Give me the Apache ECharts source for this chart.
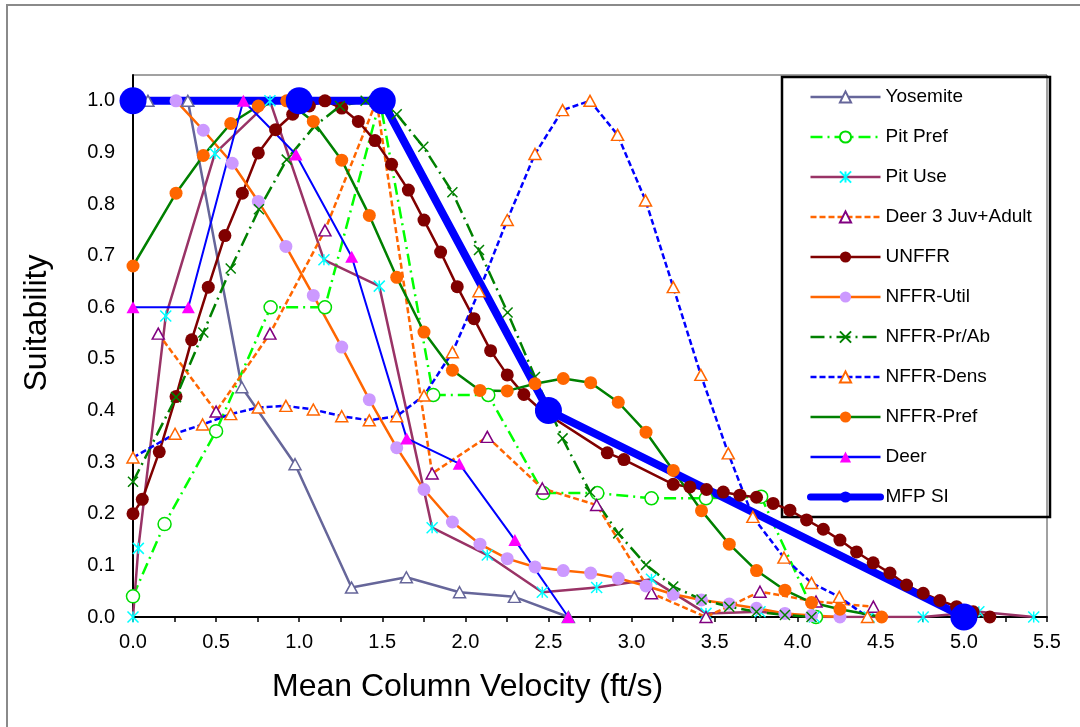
<!DOCTYPE html>
<html>
<head>
<meta charset="utf-8">
<script src="https://cdn.jsdelivr.net/npm/echarts@6/dist/echarts.min.js"></script>
<style>
html,body{margin:0;padding:0;background:#fff;}
#chart{width:1080px;height:727px;}
</style>
</head>
<body>
<div id="chart"></div>
<script>
// ---- data (x = mean column velocity ft/s, y = suitability) ----
const yosemiteX = [0.09, 0.33, 0.655, 0.975, 1.315, 1.645, 1.965, 2.295, 2.62];
const yosemiteY = [1.0, 1.0, 0.445, 0.296, 0.057, 0.077, 0.048, 0.039, 0.0];

const pitPrefX = [0, 0.19, 0.5, 0.828, 1.155, 1.486, 1.807, 2.138, 2.469, 2.794, 3.12, 3.448, 3.78, 4.11];
const pitPrefY = [0.04, 0.18, 0.36, 0.6, 0.6, 1.0, 0.43, 0.43, 0.24, 0.24, 0.23, 0.23, 0.233, 0.0];

const pitUseX = [0, 0.032, 0.197, 0.493, 0.824, 1.149, 1.482, 1.80, 2.132, 2.463, 2.79, 3.12, 3.448, 3.773, 4.10, 4.43, 4.755, 5.09, 5.42];
const pitUseY = [0, 0.133, 0.583, 0.898, 1.0, 0.692, 0.641, 0.173, 0.12, 0.048, 0.057, 0.073, 0.007, 0.01, 0.0, 0.0, 0.0, 0.01, 0.0];

const deer3X = [0.152, 0.5, 0.824, 1.155, 1.466, 1.80, 2.132, 2.463, 2.79, 3.12, 3.448, 3.773, 4.11, 4.455];
const deer3Y = [0.549, 0.398, 0.549, 0.749, 1.0, 0.278, 0.349, 0.249, 0.217, 0.046, 0.0, 0.049, 0.03, 0.02];

const unffrX = [0, 0.056, 0.158, 0.259, 0.353, 0.453, 0.553, 0.658, 0.754, 0.858, 0.961, 1.061, 1.155, 1.256, 1.356, 1.456, 1.556, 1.657, 1.751, 1.851, 1.951, 2.052, 2.152, 2.252, 2.352, 2.459, 2.854, 2.954, 3.251, 3.351, 3.451, 3.552, 3.652, 3.752, 3.852, 3.953, 4.053, 4.154, 4.254, 4.354, 4.454, 4.555, 4.655, 4.755, 4.855, 4.956, 5.056, 5.156];
const unffrY = [0.2, 0.228, 0.32, 0.427, 0.537, 0.639, 0.739, 0.821, 0.899, 0.944, 0.974, 0.99, 1.0, 0.986, 0.96, 0.923, 0.877, 0.827, 0.769, 0.707, 0.64, 0.578, 0.516, 0.469, 0.431, 0.40, 0.318, 0.305, 0.257, 0.252, 0.247, 0.242, 0.236, 0.232, 0.22, 0.207, 0.188, 0.17, 0.149, 0.126, 0.105, 0.085, 0.062, 0.046, 0.032, 0.02, 0.01, 0.0];

const utilX = [0.259, 0.423, 0.597, 0.754, 0.92, 1.085, 1.256, 1.422, 1.587, 1.751, 1.922, 2.088, 2.252, 2.419, 2.589, 2.754, 2.92, 3.087, 3.251, 3.421, 3.588, 3.752, 3.923, 4.083, 4.254];
const utilY = [1.0, 0.943, 0.879, 0.805, 0.718, 0.623, 0.523, 0.421, 0.328, 0.247, 0.184, 0.141, 0.113, 0.097, 0.09, 0.085, 0.075, 0.06, 0.044, 0.033, 0.025, 0.017, 0.007, 0.003, 0.0];

const prAbX = [0, 0.259, 0.423, 0.588, 0.758, 0.925, 1.09, 1.245, 1.40, 1.587, 1.747, 1.922, 2.082, 2.254, 2.419, 2.585, 2.75, 2.92, 3.087, 3.251, 3.421, 3.588, 3.752, 3.923, 4.083];
const prAbY = [0.262, 0.426, 0.551, 0.675, 0.79, 0.886, 0.95, 0.99, 1.0, 0.974, 0.911, 0.823, 0.711, 0.59, 0.465, 0.346, 0.242, 0.162, 0.101, 0.059, 0.034, 0.02, 0.01, 0.004, 0.0];

const densX = [0, 0.253, 0.419, 0.588, 0.754, 0.92, 1.085, 1.256, 1.422, 1.587, 1.751, 1.922, 2.082, 2.252, 2.419, 2.585, 2.75, 2.916, 3.084, 3.251, 3.417, 3.582, 3.73, 3.917, 4.083, 4.25, 4.42];
const densY = [0.309, 0.355, 0.373, 0.393, 0.406, 0.409, 0.402, 0.389, 0.381, 0.389, 0.429, 0.513, 0.631, 0.769, 0.897, 0.982, 1.0, 0.934, 0.807, 0.639, 0.469, 0.317, 0.194, 0.115, 0.066, 0.039, 0.0];

const prefX = [0, 0.259, 0.423, 0.588, 0.754, 0.925, 1.085, 1.256, 1.422, 1.587, 1.751, 1.922, 2.088, 2.252, 2.419, 2.589, 2.754, 2.92, 3.087, 3.251, 3.421, 3.588, 3.752, 3.923, 4.083, 4.254, 4.505];
const prefY = [0.68, 0.821, 0.894, 0.956, 0.99, 1.0, 0.96, 0.885, 0.778, 0.658, 0.552, 0.478, 0.439, 0.438, 0.452, 0.462, 0.454, 0.416, 0.358, 0.284, 0.206, 0.141, 0.09, 0.052, 0.028, 0.015, 0.0];

const deerX = [0, 0.333, 0.664, 0.981, 1.316, 1.647, 1.963, 2.298, 2.619];
const deerY = [0.6, 0.6, 1.0, 0.896, 0.698, 0.346, 0.297, 0.149, 0.0];

const mfpX = [0, 1.0, 1.5, 2.5, 5.0];
const mfpY = [1.0, 1.0, 1.0, 0.4, 0.0];

const seriesNames = ['Yosemite', 'Pit Pref', 'Pit Use', 'Deer 3 Juv+Adult', 'UNFFR', 'NFFR-Util', 'NFFR-Pr/Ab', 'NFFR-Dens', 'NFFR-Pref', 'Deer', 'MFP SI'];
const xTickLabels = ['0.0','0.5','1.0','1.5','2.0','2.5','3.0','3.5','4.0','4.5','5.0','5.5'];
const xTitle = 'Mean Column Velocity (ft/s)';
const yTitle = 'Suitability';

// ---- build ----
const FONT = "'Liberation Sans', Arial, sans-serif";
const pair = (xs, ys) => xs.map((x, i) => [x, ys[i]]);
const ASTERISK = 'path://M5,0L5,10M0,0L10,10M0,10L10,0';
const CROSS = 'path://M0,0L10,10M0,10L10,0';

function mk(name, xs, ys, line, sym) {
  return Object.assign({
    name: name,
    type: 'line',
    data: pair(xs, ys),
    showAllSymbol: true,
    animation: false,
    lineStyle: line,
    emphasis: { disabled: true }
  }, sym);
}

const series = [
  mk(seriesNames[0], yosemiteX, yosemiteY, { color: '#66669A', width: 2.5 },
     { symbol: 'triangle', symbolSize: [12, 11], itemStyle: { color: '#fff', borderColor: '#66669A', borderWidth: 1.5 } }),
  mk(seriesNames[1], pitPrefX, pitPrefY, { color: '#00FF00', width: 2.5, type: [12, 5, 2, 5] },
     { symbol: 'circle', symbolSize: 13, itemStyle: { color: '#fff', borderColor: '#00DD00', borderWidth: 1.5 } }),
  mk(seriesNames[2], pitUseX, pitUseY, { color: '#993366', width: 2.5 },
     { symbol: ASTERISK, symbolSize: 11, itemStyle: { color: '#00FFFF', borderColor: '#00FFFF', borderWidth: 1.5 } }),
  mk(seriesNames[3], deer3X, deer3Y, { color: '#FF6600', width: 2.5, type: [6, 3] },
     { symbol: 'triangle', symbolSize: [12, 11], itemStyle: { color: '#fff', borderColor: '#800080', borderWidth: 1.5 } }),
  mk(seriesNames[4], unffrX, unffrY, { color: '#800000', width: 2.5 },
     { symbol: 'circle', symbolSize: 13, itemStyle: { color: '#800000', borderWidth: 0 } }),
  mk(seriesNames[5], utilX, utilY, { color: '#FF6600', width: 2.5 },
     { symbol: 'circle', symbolSize: 13, itemStyle: { color: '#CC99FF', borderWidth: 0 } }),
  mk(seriesNames[6], prAbX, prAbY, { color: '#008000', width: 2.5, type: [14, 5, 2, 5] },
     { symbol: CROSS, symbolSize: 10, itemStyle: { color: '#008000', borderColor: '#008000', borderWidth: 1.5 } }),
  mk(seriesNames[7], densX, densY, { color: '#0000FF', width: 2.5, type: [6, 3] },
     { symbol: 'triangle', symbolSize: [12, 11], itemStyle: { color: '#fff', borderColor: '#FF6600', borderWidth: 1.5 } }),
  mk(seriesNames[8], prefX, prefY, { color: '#008000', width: 2.5 },
     { symbol: 'circle', symbolSize: 13, itemStyle: { color: '#FF6600', borderWidth: 0 } }),
  mk(seriesNames[9], deerX, deerY, { color: '#0000FF', width: 2 },
     { symbol: 'triangle', symbolSize: [13, 12], itemStyle: { color: '#FF00FF', borderWidth: 0 } }),
  mk(seriesNames[10], mfpX, mfpY, { color: '#0000FF', width: 8, cap: 'round', join: 'round' },
     { symbol: 'circle', symbolSize: 27, itemStyle: { color: '#0000FF', borderWidth: 0 } })
];

const legendData = seriesNames.map(n => n === 'MFP SI'
  ? { name: n, lineStyle: { width: 7, cap: 'round' } }
  : { name: n });

const chart = echarts.init(document.getElementById('chart'), null, { renderer: 'canvas' });
chart.setOption({
  animation: false,
  backgroundColor: '#fff',
  grid: { left: 133, right: 33, top: 75, bottom: 110, show: true, borderColor: '#444', borderWidth: 1, backgroundColor: 'transparent' },
  xAxis: {
    type: 'value', min: 0, max: 5.5, interval: 0.25,
    axisLine: { show: true, onZero: false, lineStyle: { color: '#000', width: 2 } },
    axisTick: { show: true, inside: false, length: 5, lineStyle: { color: '#000', width: 1.5 } },
    splitLine: { show: false },
    axisLabel: {
      margin: 15, color: '#000', fontSize: 20, fontFamily: FONT,
      formatter: v => { const k = Math.round(v * 2); return Math.abs(v * 2 - k) < 1e-6 ? xTickLabels[k] : ''; }
    }
  },
  yAxis: {
    type: 'value', min: 0, max: 1.05, interval: 0.1,
    axisLine: { show: true, lineStyle: { color: '#000', width: 2 } },
    axisTick: { show: false },
    splitLine: { show: false },
    axisLabel: {
      margin: 18, color: '#000', fontSize: 20, fontFamily: FONT,
      formatter: v => v > 1.001 ? '' : v.toFixed(1)
    }
  },
  legend: {
    data: legendData,
    orient: 'vertical', left: 807, top: 87, padding: 0,
    itemWidth: 70, itemHeight: 14, itemGap: 20,
    selectedMode: false,
    lineStyle: { width: 2.5 },
    textStyle: { fontSize: 19, fontFamily: FONT, color: '#000', lineHeight: 20 }
  },
  graphic: [
    { type: 'rect', z: 0, silent: true, shape: { x: 7, y: 5, width: 1100, height: 800 }, style: { fill: 'none', stroke: '#8a8a8a', lineWidth: 2 } },
    { type: 'rect', z: 0, silent: true, shape: { x: 782, y: 77, width: 268, height: 440 }, style: { fill: 'none', stroke: '#000', lineWidth: 2.5 } },
    { type: 'text', z: 10, silent: true, x: 272, y: 687, style: { text: xTitle, fontSize: 32, fontFamily: FONT, fill: '#000', align: 'left', verticalAlign: 'middle' } },
    { type: 'text', z: 10, silent: true, x: 37, y: 323, rotation: Math.PI / 2, style: { text: yTitle, fontSize: 32, fontFamily: FONT, fill: '#000', align: 'center', verticalAlign: 'middle' } }
  ],
  series: series
});
</script>
</body>
</html>
